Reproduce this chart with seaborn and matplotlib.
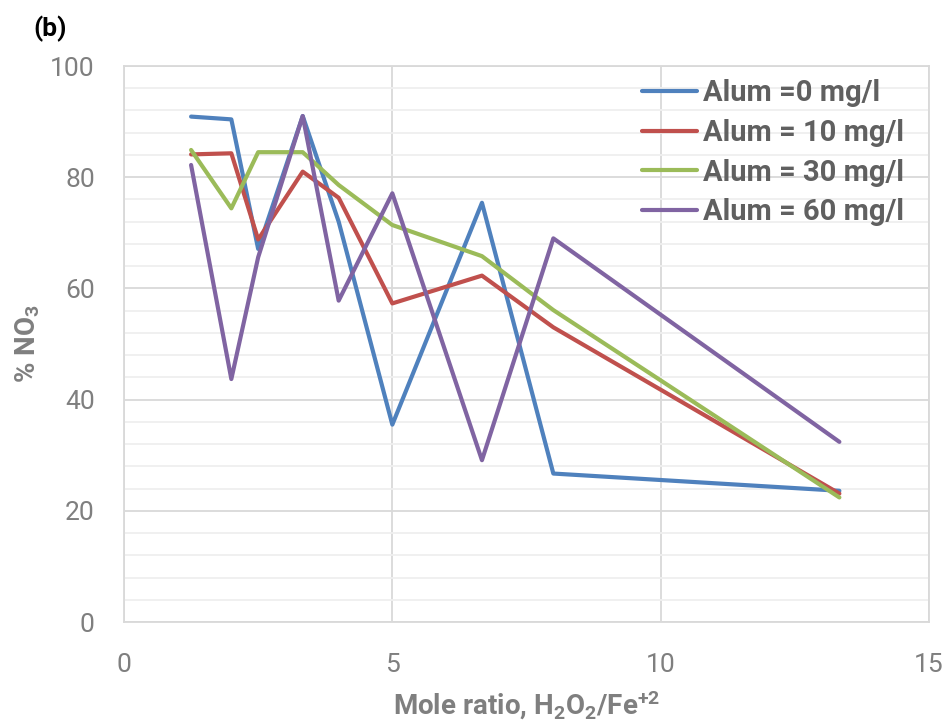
import matplotlib
matplotlib.use("Agg")
import matplotlib.pyplot as plt
import seaborn as sns
import pandas as pd
import numpy as np

x_ratio = [1.25, 2, 2.5, 3.33, 4, 5, 6.67, 8, 13.33]
alum_0 = [90.9, 90.4, 67.1, 91.0, 72.0, 35.5, 75.4, 26.7, 23.6]
alum_10 = [84.1, 84.3, 68.8, 81.0, 76.3, 57.3, 62.3, 53.0, 23.1]
alum_30 = [84.9, 74.4, 84.5, 84.5, 78.6, 71.4, 65.8, 56.1, 22.4]
alum_60 = [82.2, 43.7, 65.6, 91.0, 57.8, 77.1, 29.1, 69.0, 32.4]
series_names = ["Alum =0 mg/l", "Alum = 10 mg/l", "Alum = 30 mg/l", "Alum = 60 mg/l"]
colors = ["#4F81BD", "#C0504D", "#9BBB59", "#8064A2"]

rows = []
for name, vals in zip(series_names, [alum_0, alum_10, alum_30, alum_60]):
    for xv, yv in zip(x_ratio, vals):
        rows.append({"x": xv, "y": yv, "series": name})
df = pd.DataFrame(rows)

sns.set_theme(style="white")
FONT = "Roboto"
plt.rcParams['font.family'] = [FONT, 'DejaVu Sans']
plt.rcParams['mathtext.fontset'] = 'custom'
plt.rcParams['mathtext.rm'] = FONT
plt.rcParams['mathtext.bf'] = FONT + ':bold'
plt.rcParams['mathtext.it'] = FONT + ':italic'

fig = plt.figure(figsize=(9.5, 7.25), dpi=100)
ax = fig.add_axes([124/950, 1 - 622/725, (929-124)/950, (622-66)/725])

sns.lineplot(data=df, x="x", y="y", hue="series", palette=colors,
             estimator=None, sort=False, linewidth=3.0, ax=ax)

ax.set_xlim(0, 15)
ax.set_ylim(0, 100)
ax.set_xticks([0, 5, 10, 15])
ax.set_yticks([0, 20, 40, 60, 80, 100])
ax.set_yticks(np.arange(0, 101, 4), minor=True)
ax.grid(True, which="major", color="#d9d9d9", linewidth=1.3)
ax.grid(True, which="minor", axis="y", color="#efefef", linewidth=1.3)
ax.set_axisbelow(True)
for s in ax.spines.values():
    s.set_color("#d9d9d9")
    s.set_linewidth(1.3)

ax.tick_params(axis="both", which="both", length=0, labelsize=19, labelcolor="#7f7f7f")
ax.tick_params(axis="x", pad=22)
ax.tick_params(axis="y", pad=21)

ax.set_xlabel(r"Mole ratio, H$_\mathbf{2}$O$_\mathbf{2}$/Fe$^\mathbf{+2}$", fontsize=20,
              fontweight="bold", color="#7f7f7f", labelpad=9)
ax.set_ylabel(r"% NO$_\mathbf{3}$", fontsize=20, fontweight="bold", color="#7f7f7f", labelpad=6)

leg = ax.legend(loc="upper left", bbox_to_anchor=(0.618, 1.013), frameon=False,
                fontsize=21, handlelength=1.9, handletextpad=0.2, labelspacing=0.4,
                borderaxespad=0.3)
for t in leg.get_texts():
    t.set_fontweight("bold")
    t.set_color("#606060")
for h in leg.get_lines():
    h.set_linewidth(3.0)

fig.text(33/950, 1 - 29/725, "(b)", fontsize=19, fontweight="bold", color="black", va="center")

fig.savefig("out.png", dpi=100)
